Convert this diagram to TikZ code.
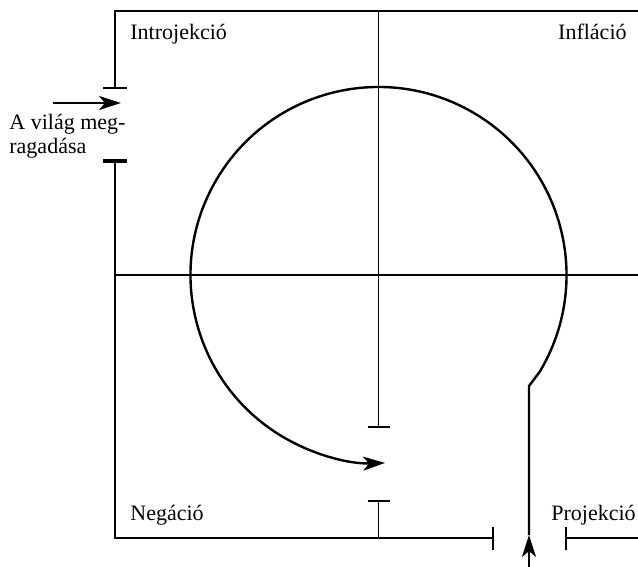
\documentclass[tikz,border=0pt]{standalone}
\usepackage{fontspec}
\setmainfont{Liberation Serif}
\usetikzlibrary{arrows.meta}

\begin{document}
\begin{tikzpicture}[
  x=0.5pt, y=-0.5pt,
  frame/.style={line width=0.6pt},
  bar/.style={line width=0.6pt},
  barthick/.style={line width=1.6pt},
  loop/.style={line width=1.2pt},
  arr/.style={-{Stealth[length=11pt, width=7pt, inset=3pt]}, line width=1.3pt},
  lbl/.style={font=\fontsize{11}{12}\selectfont, inner sep=0pt},
]
  \useasboundingbox (0,0) rectangle (638,567);

  % frame corners and gaps
  \coordinate (TR) at (638,11);
  \coordinate (TL) at (115,11);
  \coordinate (gapT) at (115,88);
  \coordinate (gapB) at (115,161);
  \coordinate (BL) at (115,538);
  \coordinate (gapL) at (493,538);
  \coordinate (gapR) at (566,538);
  \coordinate (BR) at (638,538);
  \coordinate (axW) at (115,275);
  \coordinate (axE) at (638,275);
  \coordinate (axN) at (378.5,11);
  \coordinate (gapU) at (378.5,427);
  \coordinate (gapD) at (378.5,501);
  \coordinate (axS) at (378.5,538);
  \coordinate (C) at (378.5,275);

  \draw[frame] (TR) -- (TL) -- (gapT);
  \draw[frame] (gapB) -- (BL) -- (gapL);
  \draw[frame] (gapR) -- (BR);
  \draw[frame] (axW) -- (axE);
  \draw[frame] (axN) -- (gapU);
  \draw[frame] (gapD) -- (axS);

  % gap bars
  \draw[bar] (gapT) ++(-12,0) -- ++(24,0);
  \draw[barthick] (gapB) ++(-12,0) -- ++(24,0);
  \draw[bar] (gapU) ++(-11,0) -- ++(22,0);
  \draw[bar] (gapD) ++(-11,0) -- ++(22,0);
  \draw[bar] (gapL) ++(0,-11) -- ++(0,23);
  \draw[bar] (gapR) ++(0,-11) -- ++(0,23);

  % labels
  \node[lbl, anchor=base west] (intro) at (130,40) {Introjekció};
  \node[lbl, anchor=base east] (infl) at (627,40) {Infláció};
  \node[lbl, anchor=base west] (neg) at (130,520) {Negáció};
  \node[lbl, anchor=base west] (proj) at (551,520) {Projekció};
  \node[lbl, anchor=base west, align=left] (grab) at (9,154) {A világ meg-\\ragadása};

  % incoming arrow on the left
  \coordinate (inW) at (53,103);
  \coordinate (tipW) at (121,103);
  \draw[arr] (inW) -- (tipW);

  % loop from the bottom
  \coordinate (inS) at (529,567);
  \coordinate (tipS) at (529,535);
  \coordinate (knee) at (529,386);
  \draw[arr] (inS) -- (tipS);
  \draw[loop, -{Stealth[length=11pt, width=7pt, inset=3pt]}]
    (tipS) -- (knee) -- ([shift={(-31:94pt)}]C)
    arc[start angle=-31, end angle=272, radius=94pt];
\end{tikzpicture}
\end{document}
